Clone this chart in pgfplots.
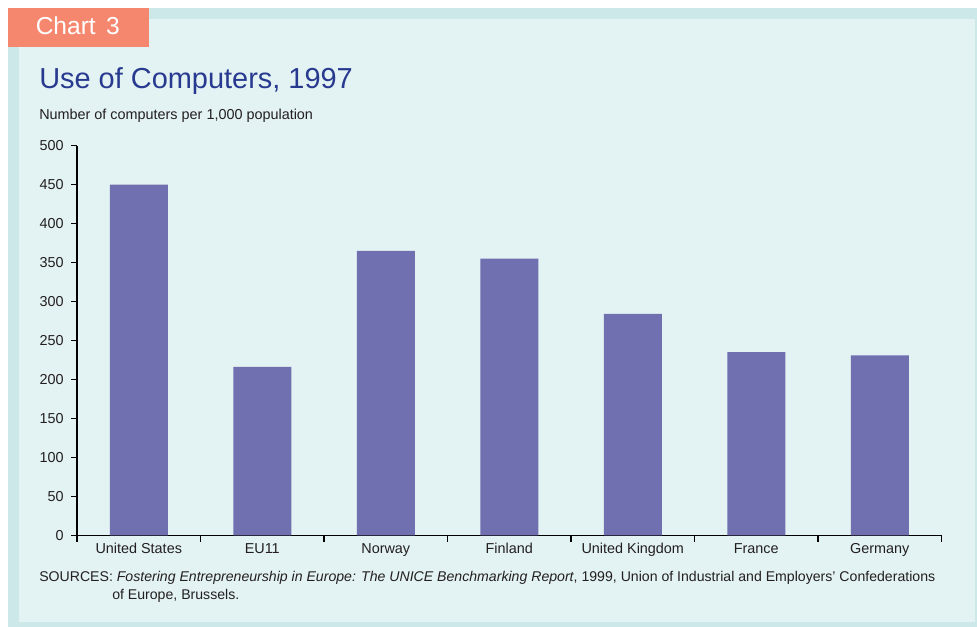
\documentclass[border=0pt]{standalone}
\usepackage{pgfplots}
\pgfplotsset{compat=1.18}
\usepackage{fontspec}
\setmainfont{Liberation Sans}
\definecolor{outerteal}{HTML}{CDE8E9}
\definecolor{innerteal}{HTML}{E3F2F2}
\definecolor{tabsalmon}{HTML}{F5876E}
\definecolor{titleblue}{HTML}{283A90}
\definecolor{barblue}{HTML}{7070B0}
\definecolor{txt}{HTML}{231F20}
\newcommand{\lbl}{\fontsize{10.8}{13}\selectfont}
\begin{document}
\begin{tikzpicture}
\begin{scope}[x=0.75pt,y=0.75pt]
\fill[white] (0,0) rectangle (977,627);
\fill[outerteal] (8,0) rectangle (977,619);
\fill[innerteal] (19,5) rectangle (975,608);
\fill[tabsalmon] (8,580) rectangle (149,619);
\node[anchor=base west,inner sep=0pt,text=white,font=\fontsize{18.4}{22}\selectfont] at (35.5,592) {Chart\hspace{0.15em} 3};
\node[anchor=base west,inner sep=0pt,text=titleblue,font=\fontsize{21.7}{26}\selectfont] at (39,538) {Use of Computers, 1997};
\node[anchor=base west,inner sep=0pt,text=txt,font=\lbl] at (39,507.5) {Number of computers per 1,000 population};
\node[anchor=base west,inner sep=0pt,text=txt,font=\fontsize{10.58}{13}\selectfont] at (39,45.3) {SOURCES: \textit{Fostering Entrepreneurship in Europe: The UNICE Benchmarking Report}, 1999, Union of Industrial and Employers’ Confederations};
\node[anchor=base west,inner sep=0pt,text=txt,font=\fontsize{10.58}{13}\selectfont] at (112,27) {of Europe, Brussels.};
\end{scope}
\begin{axis}[
  at={(57.75pt,68.78pt)}, anchor=south west,
  scale only axis, width=648.4pt, height=292.2pt,
  xmin=-0.5, xmax=6.5, ymin=0, ymax=500,
  axis lines=left,
  axis line style={-, black, line width=0.9pt},
  xtick={0,1,2,3,4,5,6},
  xticklabels={United States,EU11,Norway,Finland,United Kingdom,France,Germany},
  minor xtick={-0.5,0.5,...,6.5},
  ytick={0,50,...,500},
  tick align=outside,
  major tick length=4.5pt,
  minor tick length=5pt,
  major x tick style={draw=none},
  minor x tick style={black, line width=0.9pt},
  major y tick style={black, line width=0.9pt},
  ticklabel style={font=\lbl, text=txt},
  /pgf/number format/assume math mode=true,
  xticklabel style={yshift=2pt},
  yticklabel style={xshift=-2pt},
  ybar, bar width=43.5pt,
]
\addplot[fill=barblue, draw=none] coordinates {(0,450) (1,216) (2,365) (3,355) (4,284) (5,235) (6,231)};
\end{axis}
\end{tikzpicture}
\end{document}
